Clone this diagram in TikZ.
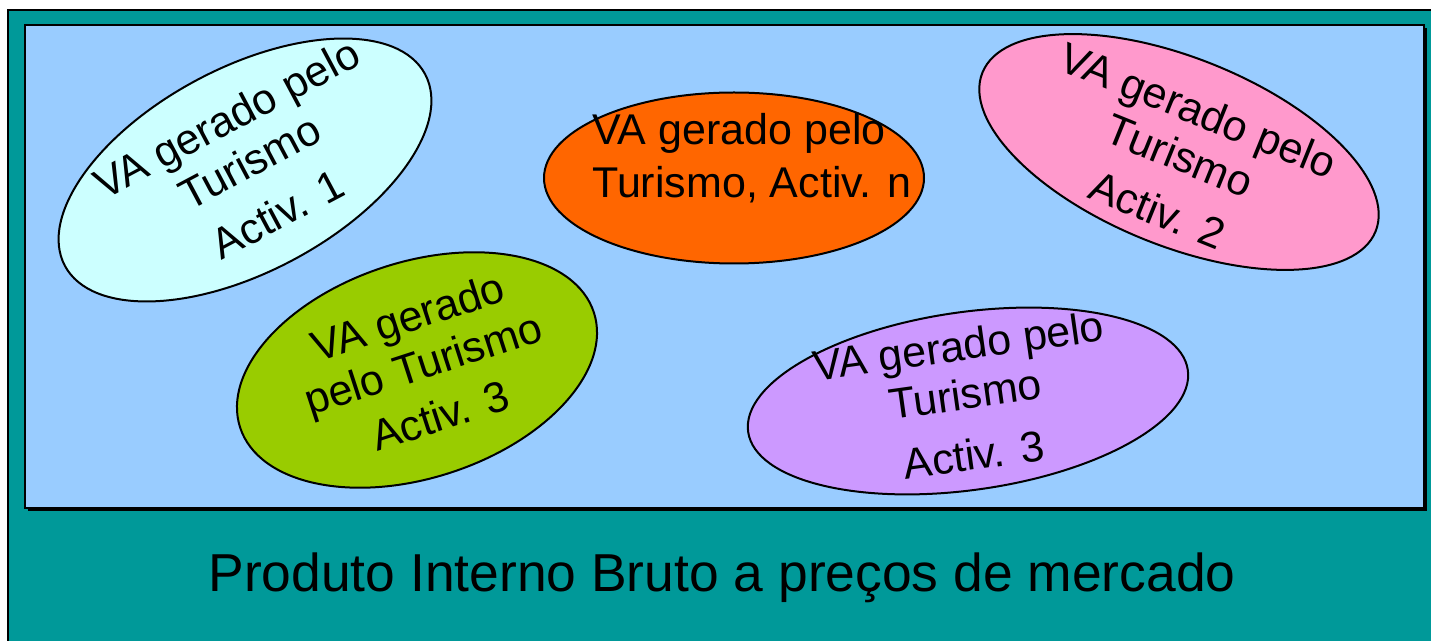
\documentclass[tikz,border=0pt]{standalone}
\usepackage{fontspec}
\setmainfont{Liberation Sans}
\usetikzlibrary{shapes.geometric}
\definecolor{pibteal}{HTML}{009999}
\definecolor{skyfill}{HTML}{99CCFF}
\definecolor{actone}{HTML}{CCFFFF}
\definecolor{actn}{HTML}{FF6600}
\definecolor{acttwo}{HTML}{FF99CC}
\definecolor{actgreen}{HTML}{99CC00}
\definecolor{actlilac}{HTML}{CC99FF}
\begin{document}
\begin{tikzpicture}[x=0.5pt, y=-0.5pt,
  blob/.style={ellipse, draw, line width=1pt, inner sep=0pt},
  vatext/.style={align=center, inner sep=0pt, font=\fontsize{21.5}{24.5}\selectfont},
  pib/.style={inner sep=0pt, font=\fontsize{26.7}{30}\selectfont}
]
  \useasboundingbox (0,0) rectangle (1431,641);
  % PIB frame
  \fill[pibteal] (8,10) rectangle (1460,660);
  \draw[line width=1pt] (8,660) -- (8,10) -- (1460,10);
  \fill (28,28) rectangle (1427,511);
  \draw[fill=skyfill, line width=1pt] (25,25) rectangle (1424,508);

  \node[blob, fill=actone, minimum width=204pt, minimum height=102pt, rotate=28] (A1) at (245,170) {};
  \node[blob, fill=actn, minimum width=190pt, minimum height=85.5pt] (An) at (734,178) {};
  \node[blob, fill=acttwo, minimum width=212pt, minimum height=94pt, rotate=-22] (A2) at (1179,152) {};
  \node[blob, fill=actgreen, minimum width=186pt, minimum height=108pt, rotate=18] (A3g) at (417,370) {};
  \node[blob, fill=actlilac, minimum width=222pt, minimum height=89pt, rotate=8] (A3l) at (968,401) {};

  \node[vatext, rotate=28] (T1) at (252,166) {VA gerado pelo\\Turismo\\[5pt]Activ. 1};
  \node[vatext, align=left, font=\fontsize{21.5}{26.5}\selectfont, anchor=north west] (Tn) at (592,113) {VA gerado pelo\\Turismo, Activ. n};
  \node[vatext, rotate=-22] (T2) at (1178,160) {VA gerado pelo\\Turismo\\[5pt]Activ. 2};
  \node[vatext, rotate=18] (T3g) at (424,366) {VA gerado\\pelo Turismo\\[3pt]Activ. 3};
  \node[vatext, rotate=8] (T3l) at (966,400) {VA gerado pelo\\Turismo\\[6pt]Activ. 3};

  \node[pib, anchor=base] (PIB) at (722,592) {Produto Interno Bruto a preços de mercado};
\end{tikzpicture}
\end{document}
